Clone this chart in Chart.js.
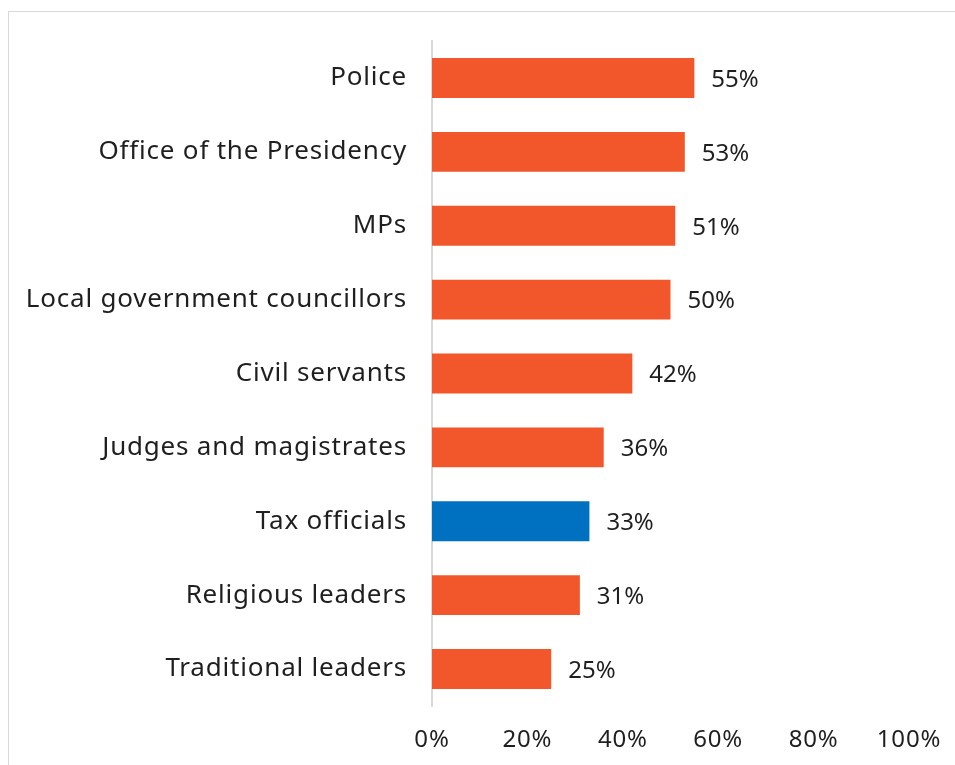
<!DOCTYPE html>
<html>
<head>
<meta charset="utf-8">
<script src="https://cdn.jsdelivr.net/npm/chart.js@4.4.1/dist/chart.umd.min.js"></script>
<style>
    html, body {
        margin: 0;
        padding: 0;
        background: #ffffff;
        overflow: hidden;
    }
    #frame {
        position: absolute;
        left: 8px;
        top: 11px;
        width: 980px;
        height: 800px;
        border: 1px solid #d9d9d9;
    }
    #wrap {
        position: absolute;
        left: 0;
        top: 0;
        width: 955px;
        height: 765px;
    }
</style>
</head>
<body>
<div id="frame"></div>
<div id="wrap"><canvas id="trustChart"></canvas></div>
<script>
const institutions = [
    "Police",
    "Office of the Presidency",
    "MPs",
    "Local government councillors",
    "Civil servants",
    "Judges and magistrates",
    "Tax officials",
    "Religious leaders",
    "Traditional leaders"
];
const percentages = [55, 53, 51, 50, 42, 36, 33, 31, 25];
const highlighted = "Tax officials";
const xTicks = [0, 20, 40, 60, 80, 100];

const orange = "#F1572B";
const blue = "#0070C0";
const textColor = "#1f1f1f";
const fontFamily = "'Noto Sans', 'DejaVu Sans', sans-serif";

const barColors = institutions.map(name => name === highlighted ? blue : orange);

// category names get a little extra spacing; numbers are drawn without it
const spacing = {
    id: "spacing",
    beforeDraw(chart) {
        chart.ctx.letterSpacing = "0.8px";
    },
    beforeDatasetsDraw(chart) {
        chart.ctx.letterSpacing = "0px";
    }
};

// writes the percentage just past the end of each bar
const valueLabels = {
    id: "valueLabels",
    afterDatasetsDraw(chart) {
        const ctx = chart.ctx;
        const meta = chart.getDatasetMeta(0);
        ctx.save();
        ctx.font = "24px " + fontFamily;
        ctx.fillStyle = textColor;
        ctx.textAlign = "left";
        ctx.textBaseline = "middle";
        meta.data.forEach((bar, i) => {
            ctx.fillText(percentages[i] + "%", bar.x + 17, bar.y + 2);
        });
        ctx.restore();
    }
};

new Chart(document.getElementById("trustChart"), {
    type: "bar",
    data: {
        labels: institutions,
        datasets: [{
            data: percentages,
            backgroundColor: barColors,
            borderWidth: 0,
            barPercentage: 0.54,
            categoryPercentage: 1
        }]
    },
    options: {
        indexAxis: "y",
        responsive: true,
        maintainAspectRatio: false,
        animation: false,
        layout: {
            padding: { top: 41, right: 46, left: 0, bottom: 0 }
        },
        plugins: {
            legend: { display: false },
            tooltip: { enabled: false }
        },
        scales: {
            x: {
                min: 0,
                max: 100,
                z: 1,
                afterBuildTicks: scale => {
                    scale.ticks = xTicks.map(v => ({ value: v }));
                },
                afterFit: scale => {
                    scale.height = 59;
                    scale.paddingLeft = 0;
                    scale.paddingRight = 0;
                },
                grid: { display: false, drawTicks: false },
                border: { display: false },
                ticks: {
                    padding: 20,
                    color: textColor,
                    font: { family: fontFamily, size: 24 },
                    maxRotation: 0,
                    callback: v => v + "%"
                }
            },
            y: {
                afterFit: scale => {
                    scale.width = 432;
                },
                grid: { display: false, drawTicks: false },
                border: { display: true, color: "#d9d9d9", width: 2 },
                ticks: {
                    padding: 25,
                    color: textColor,
                    font: { family: fontFamily, size: 26 }
                }
            }
        }
    },
    plugins: [spacing, valueLabels]
});
</script>
</body>
</html>
